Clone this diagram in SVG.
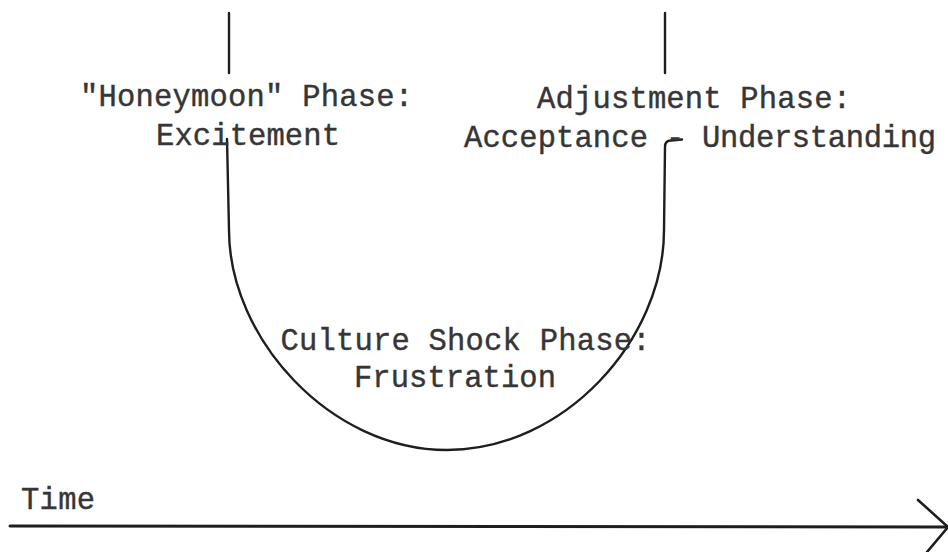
<svg xmlns="http://www.w3.org/2000/svg" width="948" height="552" viewBox="0 0 948 552">
<style>
.t{font-family:"Liberation Mono","Courier New",monospace;font-size:30.5px;fill:#363636;stroke:#363636;stroke-width:0.4;}
.ln{fill:none;stroke:#1e1e1e;stroke-width:2.4;stroke-linecap:round;stroke-linejoin:round;}
</style>
<rect width="948" height="552" fill="#ffffff"/>
<g id="connectors">
<path class="ln" d="M229,13 L229,73"/>
<path class="ln" d="M665,13 L665,73"/>
<path class="ln" d="M227,139 L229,230 C229,338 330,450 447,450 C564,450 664,340 664,230 L665,147 Q665,140.5 671,140.5 L682,139.5"/>
</g>
<g id="honeymoon">
<text class="t" x="80" y="106" textLength="333" lengthAdjust="spacing">"Honeymoon" Phase:</text>
<text class="t" x="156" y="145" textLength="184" lengthAdjust="spacing">Excitement</text>
</g>
<g id="adjustment">
<text class="t" x="537" y="108" textLength="314" lengthAdjust="spacing">Adjustment Phase:</text>
<text class="t" y="147"><tspan x="464" textLength="184" lengthAdjust="spacing">Acceptance</tspan> <tspan x="666">-</tspan> <tspan x="702" textLength="234" lengthAdjust="spacing">Understanding</tspan></text>
</g>
<g id="cultureshock">
<text class="t" x="280.5" y="350" textLength="370" lengthAdjust="spacing">Culture Shock Phase:</text>
<text class="t" x="354" y="387" textLength="202" lengthAdjust="spacing">Frustration</text>
</g>
<g id="time">
<text class="t" x="21" y="509" textLength="74" lengthAdjust="spacing">Time</text>
<path class="ln" style="stroke-width:3" d="M10,526 L948,527"/>
<path class="ln" style="stroke-width:2.6" d="M918,500 L948,527 L927,552"/>
</g>
</svg>
